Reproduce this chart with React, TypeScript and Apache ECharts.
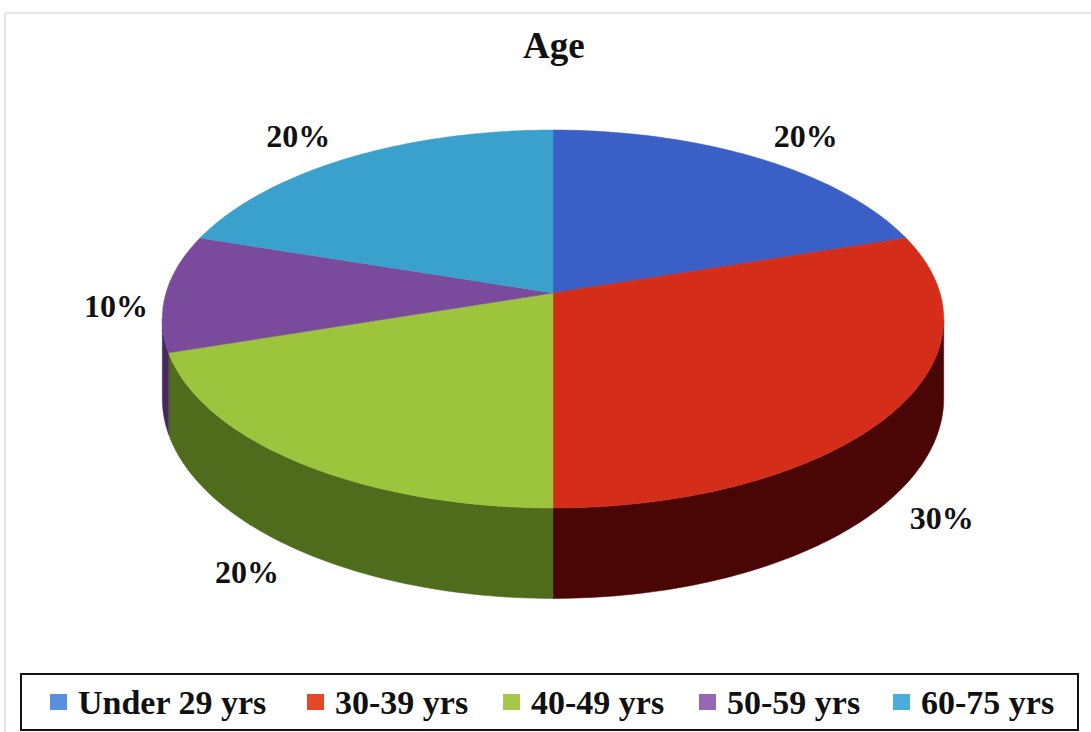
import React, { useEffect, useRef } from "react";
import * as echarts from "echarts";

const categories = ["Under 29 yrs", "30-39 yrs", "40-49 yrs", "50-59 yrs", "60-75 yrs"];
const values = [20, 30, 20, 10, 20];
const topColors = ["#3a5fc6", "#d42e1b", "#9cc43c", "#7a4a9c", "#3aa0cc"];
const sideColors = ["#1f3575", "#4a0505", "#4e6c1c", "#48295e", "#1f5d78"];
const legendColors = ["#5a8ee0", "#e4462a", "#a6c84a", "#9868b4", "#4aaedc"];
const legendLeft = [50, 307, 503, 699, 893];

// geometry of the tilted pie (pixels)
const CX = 553;
const CY = 293;
const RX = 387;
const RY = 185.4;
const K = 0.1376; // perspective strength
const DEPTH = 78;

const total = values.reduce((a, b) => a + b, 0);
const startAngles: number[] = [];
{
  let acc = 0;
  for (const v of values) {
    startAngles.push((acc / total) * Math.PI * 2);
    acc += v;
  }
}

function proj(theta: number, r: number, h: number): number[] {
  const s = 1 / (1 + K * r * Math.cos(theta));
  return [CX + RX * r * Math.sin(theta) * s, CY - RY * r * Math.cos(theta) * s + h * s];
}

function arcPoints(a0: number, a1: number, h: number): number[][] {
  const pts: number[][] = [];
  const n = Math.max(2, Math.ceil(((a1 - a0) * 180) / Math.PI));
  for (let i = 0; i <= n; i++) {
    pts.push(proj(a0 + ((a1 - a0) * i) / n, 1, h));
  }
  return pts;
}

const SIL0 = Math.acos(-K);
const SIL1 = Math.PI * 2 - SIL0;
const FONT = "Liberation Serif";

export default function App() {
  const ref = useRef<HTMLDivElement>(null);
  useEffect(() => {
    if (!ref.current) return;
    const chart = echarts.init(ref.current, undefined, { renderer: "svg" });

    const sideSeries: any = {
      type: "custom",
      name: "sides",
      coordinateSystem: "none",
      silent: true,
      z: 1,
      data: values.map((v, i) => [i, v]),
      renderItem: (params: any) => {
        const i = params.dataIndex;
        const a0 = startAngles[i];
        const a1 = a0 + (values[i] / total) * Math.PI * 2;
        const b0 = Math.max(a0, SIL0);
        const b1 = Math.min(a1, SIL1);
        if (b1 <= b0) return { type: "group", children: [] };
        const top = arcPoints(b0, b1, 0);
        const bottom = arcPoints(b0, b1, DEPTH).reverse();
        return {
          type: "polygon",
          shape: { points: top.concat(bottom) },
          style: { fill: sideColors[i], stroke: sideColors[i], lineWidth: 0.5 },
        };
      },
    };

    const topSeries: any[] = categories.map((name, i) => ({
      type: "custom",
      name,
      coordinateSystem: "none",
      silent: true,
      z: 2,
      itemStyle: { color: legendColors[i] },
      data: [[i, values[i]]],
      renderItem: () => {
        const a0 = startAngles[i];
        const a1 = a0 + (values[i] / total) * Math.PI * 2;
        const pts = [[CX, CY]].concat(arcPoints(a0, a1, 0));
        const mid = (a0 + a1) / 2;
        const c = Math.cos(mid);
        const sn = Math.sin(mid);
        const f = Math.min(1, Math.max(0, (0.1 - c) / 0.6));
        const p = proj(mid, 1, DEPTH * f);
        const align = Math.abs(sn) < 0.2 ? "center" : sn > 0 ? "left" : "right";
        const vAlign = c > 0.2 ? "bottom" : c < -0.2 ? "top" : "middle";
        const lx = p[0] + (align === "left" ? 16 : align === "right" ? -18 : 0);
        const ly = p[1] + (vAlign === "bottom" ? -6 : vAlign === "top" ? 6 : 0);
        const pct = Math.round((values[i] / total) * 100) + "%";
        return {
          type: "group",
          children: [
            {
              type: "polygon",
              shape: { points: pts },
              style: { fill: topColors[i], stroke: topColors[i], lineWidth: 0.5 },
            },
            {
              type: "text",
              x: lx,
              y: ly,
              style: {
                text: pct,
                fill: "#111",
                fontFamily: FONT,
                fontSize: 32,
                fontWeight: "bold",
                align,
                verticalAlign: vAlign,
              },
            },
          ],
        };
      },
    }));

    chart.setOption({
      animation: false,
      backgroundColor: "#ffffff",
      title: {
        text: "Age",
        left: 523,
        top: 27,
        padding: 0,
        textStyle: { fontFamily: FONT, fontSize: 37, fontWeight: "bold", color: "#111" },
      },
      legend: categories.map((name, i) => ({
        data: [name],
        left: legendLeft[i],
        top: 685,
        padding: 0,
        icon: "rect",
        itemWidth: 17,
        itemHeight: 16,
        selectedMode: false,
        textStyle: {
          fontFamily: FONT,
          fontSize: 34,
          fontWeight: "bold",
          color: "#111",
          padding: [0, 0, 0, 6],
        },
      })),
      graphic: [
        {
          type: "rect",
          shape: { x: 21, y: 674, width: 1057, height: 56 },
          style: { fill: "none", stroke: "#111", lineWidth: 2 },
          silent: true,
        },
        {
          type: "polyline",
          shape: { points: [[5, 732], [5, 13], [1091, 13]] },
          style: { fill: "none", stroke: "#cccccc", lineWidth: 1 },
          silent: true,
        },
      ],
      series: [sideSeries, ...topSeries],
    });
    return () => chart.dispose();
  }, []);
  return (
    <div
      ref={ref}
      style={{ position: "fixed", left: 0, top: 0, width: 1091, height: 732 }}
    />
  );
}
